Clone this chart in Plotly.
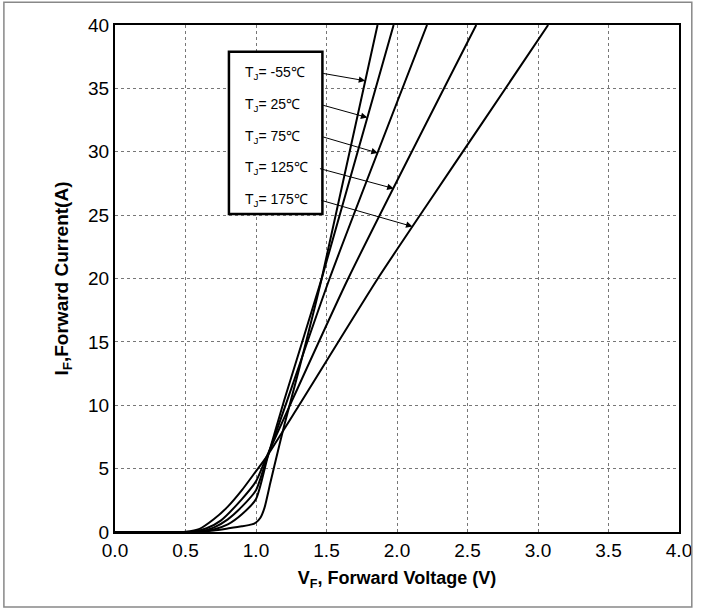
import numpy as np
import plotly.graph_objects as go

# ---- data ----
labels = ["-55℃", "25℃", "75℃", "125℃", "175℃"]

v_m55 = [0.0, 0.5, 0.6, 0.7, 0.8, 0.9, 0.97, 1.0, 1.03, 1.06, 1.1, 1.13, 1.2, 1.3, 1.466, 1.862]
i_m55 = [0.0, 0.0, 0.02, 0.12, 0.28, 0.45, 0.6, 0.75, 1.1, 1.9, 3.8, 5.2, 8.4, 12.6, 20.0, 40.0]

v_25 = [0.0, 0.5, 0.6, 0.7, 0.8, 0.9, 1.0, 1.08, 1.2, 1.466, 1.976]
i_25 = [0.0, 0.0, 0.03, 0.2, 0.6, 1.4, 2.6, 5.8, 10.4, 20.0, 40.0]

v_75 = [0.0, 0.5, 0.6, 0.7, 0.8, 0.9, 1.0, 1.08, 1.2, 1.522, 2.213]
i_75 = [0.0, 0.0, 0.05, 0.35, 1.0, 2.0, 3.3, 5.9, 9.7, 20.0, 40.0]

v_125 = [0.0, 0.5, 0.55, 0.65, 0.75, 0.9, 1.0, 1.07, 1.2, 1.654, 2.562]
i_125 = [0.0, 0.0, 0.03, 0.3, 0.9, 2.6, 4.0, 5.8, 9.0, 20.0, 40.0]

v_175 = [0.0, 0.45, 0.5, 0.6, 0.7, 0.8, 0.9, 1.0, 1.07, 1.3, 1.864, 2.2, 2.6, 3.072]
i_175 = [0.0, 0.0, 0.02, 0.25, 1.0, 2.0, 3.3, 4.8, 5.85, 9.9, 20.0, 25.6, 32.2, 40.0]

curves_v = [v_m55, v_25, v_75, v_125, v_175]
curves_i = [i_m55, i_25, i_75, i_125, i_175]

# legend box rows (current level of each label row) and arrow tip currents
row_current = [36.2, 33.7, 31.2, 28.7, 26.2]
tip_current = [35.6, 32.7, 29.9, 27.1, 24.1]
tail_voltage = [1.466, 1.466, 1.466, 1.443, 1.452]

x_ticks = [0.0, 0.5, 1.0, 1.5, 2.0, 2.5, 3.0, 3.5, 4.0]
y_ticks = [0, 5, 10, 15, 20, 25, 30, 35, 40]

FONT = "Arial, Liberation Sans, sans-serif"

fig = go.Figure()
for v, i in zip(curves_v, curves_i):
    fig.add_trace(go.Scatter(x=v, y=i, mode="lines",
                             line=dict(color="black", width=2, shape="spline", smoothing=0.6),
                             showlegend=False, hoverinfo="skip"))

# legend box
fig.add_shape(type="rect", xref="x", yref="y", x0=0.808, x1=1.471, y0=25.09, y1=37.89,
              line=dict(color="black", width=2.5), fillcolor="white", layer="above")

for lab, ry, ti, tv, v, i in zip(labels, row_current, tip_current, tail_voltage, curves_v, curves_i):
    fig.add_annotation(x=0.907, y=ry, xref="x", yref="y", text="T<sub>J</sub>= " + lab,
                       showarrow=False, xanchor="left", yanchor="middle",
                       font=dict(family=FONT, size=14, color="black"))
    tip_v = float(np.interp(ti, i, v))
    fig.add_annotation(x=tip_v, y=ti, xref="x", yref="y", ax=tv, ay=ry, axref="x", ayref="y",
                       text="", showarrow=True, arrowhead=2, arrowsize=1.3, arrowwidth=1,
                       arrowcolor="black")

# outer frame
fig.add_shape(type="rect", xref="paper", yref="paper", x0=-0.197, x1=1.0227, y0=-0.148, y1=1.045,
              line=dict(color="#888888", width=1.5), fillcolor="rgba(0,0,0,0)", layer="above")

fig.update_xaxes(range=[0, 4], tickvals=x_ticks, ticktext=[f"{t:.1f}" for t in x_ticks],
                 showgrid=True, gridcolor="#777777", griddash="dot", gridwidth=1,
                 showline=True, mirror=True, linecolor="black", linewidth=2,
                 ticks="", zeroline=False,
                 tickfont=dict(family=FONT, size=19, color="black"),
                 title=dict(text="<b>V<sub>F</sub>, Forward Voltage (V)</b>",
                            font=dict(family=FONT, size=18, color="black"), standoff=12))
fig.update_yaxes(range=[0, 40], tickvals=y_ticks,
                 showgrid=True, gridcolor="#777777", griddash="dot", gridwidth=1,
                 showline=True, mirror=True, linecolor="black", linewidth=2,
                 ticks="", zeroline=False,
                 tickfont=dict(family=FONT, size=19, color="black"),
                 title=dict(text="<b>I<sub>F</sub>,Forward Current(A)</b>",
                            font=dict(family=FONT, size=19, color="black"), standoff=14))

fig.update_layout(width=704, height=613, margin=dict(l=115, r=16, t=25, b=81),
                  plot_bgcolor="white", paper_bgcolor="white", showlegend=False)

fig.write_html("out.html",
               config={"responsive": False, "displayModeBar": False, "staticPlot": True},
               post_script="document.body.style.margin='0px';document.body.style.overflow='hidden';")
